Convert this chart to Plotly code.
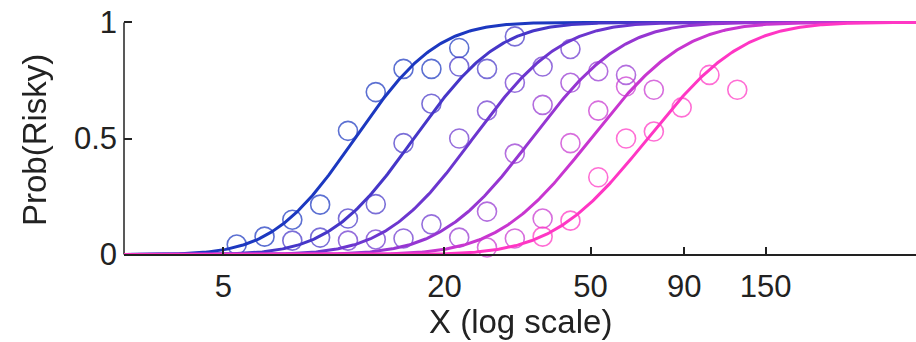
import math
import numpy as np
import plotly.graph_objects as go

# ---- data ----
s1_x = [5.435, 6.471, 7.702, 9.170, 10.92, 13.00, 15.47, 18.43, 21.94]
s1_p = [0.043, 0.077, 0.15, 0.215, 0.533, 0.70, 0.80, 0.80, 0.89]

s2_x = [7.702, 9.170, 10.92, 13.00, 15.47, 18.43, 21.94, 26.12, 31.10]
s2_p = [0.06, 0.073, 0.155, 0.217, 0.48, 0.65, 0.81, 0.80, 0.94]

s3_x = [10.92, 13.00, 15.47, 18.43, 21.94, 26.12, 31.10, 37.02, 44.08]
s3_p = [0.06, 0.065, 0.069, 0.13, 0.50, 0.62, 0.74, 0.81, 0.886]

s4_x = [21.94, 26.12, 31.10, 37.02, 44.08, 52.48, 62.47]
s4_p = [0.073, 0.185, 0.435, 0.645, 0.74, 0.79, 0.774]

s5_x = [26.12, 31.10, 37.02, 44.08, 52.48, 62.47, 74.37]
s5_p = [0.03, 0.069, 0.155, 0.48, 0.62, 0.724, 0.71]

s6_x = [37.02, 44.08, 52.48, 62.47, 74.37, 88.55, 105.4, 125.5]
s6_p = [0.077, 0.146, 0.333, 0.50, 0.53, 0.634, 0.774, 0.71]

# fitted psychometric curves (cumulative normal in log10 X): threshold and spread
fit_mid = [11.4, 16.5, 23.9, 34.6, 50.1, 71.5]
fit_sigma = [0.175, 0.181, 0.187, 0.193, 0.199, 0.203]

x_ticks = [5, 20, 50, 90, 150]
y_ticks = [0, 0.5, 1]
y_tick_text = ["0", "0.5", "1"]
x_title = "X (log scale)"
y_title = "Prob(Risky)"

colors = ["#1c38c0", "#4636c8", "#6c36cf", "#9636d2", "#c836d0", "#ff36c4"]

series_x = [s1_x, s2_x, s3_x, s4_x, s5_x, s6_x]
series_p = [s1_p, s2_p, s3_p, s4_p, s5_p, s6_p]

x_min, x_max = 2.68, 385.0

fig = go.Figure()
xs = np.logspace(np.log10(x_min), np.log10(x_max), 500)

for i in range(6):
    fig.add_trace(go.Scatter(
        x=series_x[i], y=series_p[i], mode="markers",
        marker=dict(symbol="circle-open", size=19, color=colors[i],
                    line=dict(width=1.6, color=colors[i])),
        opacity=0.72, showlegend=False, cliponaxis=False))

for i in range(6):
    z = (np.log10(xs) - np.log10(fit_mid[i])) / fit_sigma[i]
    p = [0.5 * (1.0 + math.erf(v / math.sqrt(2.0))) for v in z]
    fig.add_trace(go.Scatter(
        x=xs, y=p, mode="lines",
        line=dict(color=colors[i], width=3),
        showlegend=False))

W, H = 916, 342
ML, MR, MT, MB = 124, 0, 19, 84
plot_w = W - ML - MR
plot_h = H - MT - MB

ypad = 0.015
tick_font = dict(family="Liberation Sans, Arial, sans-serif", size=31, color="#222222")
title_font = dict(family="Liberation Sans, Arial, sans-serif", size=33, color="#222222")

fig.update_layout(
    width=W, height=H,
    margin=dict(l=ML, r=MR, t=MT, b=MB),
    paper_bgcolor="white", plot_bgcolor="white",
    font=tick_font,
    xaxis=dict(
        type="log", range=[np.log10(x_min), np.log10(x_max)],
        tickvals=x_ticks, ticktext=[str(v) for v in x_ticks],
        ticks="inside", ticklen=7, tickwidth=1.5, tickcolor="#222",
        showline=True, linecolor="#222", linewidth=1.5,
        showgrid=False, zeroline=False,
        anchor="free", position=ypad / (1 + 2 * ypad),
        tickfont=tick_font, ticklabelstandoff=5,
    ),
    yaxis=dict(
        range=[-ypad, 1 + ypad],
        tickvals=y_ticks, ticktext=y_tick_text,
        ticks="inside", ticklen=8, tickwidth=1.5, tickcolor="#222",
        showline=False, showgrid=False, zeroline=False,
        tickfont=tick_font, ticklabelstandoff=6,
    ),
    shapes=[dict(type="line", xref="paper", yref="y", x0=0, x1=0, y0=0, y1=1,
                 line=dict(color="#222", width=1.5), layer="below")],
    annotations=[
        dict(text=x_title, xref="paper", yref="paper",
             x=(520 - ML) / plot_w, y=-(301 - (H - MB)) / plot_h,
             xanchor="center", yanchor="top", showarrow=False, font=title_font),
        dict(text=y_title, xref="paper", yref="paper",
             x=(34 - ML) / plot_w, y=(H - MB - 140) / plot_h,
             xanchor="center", yanchor="middle", textangle=-90,
             showarrow=False, font=title_font),
    ],
)

fig.write_html("out.html")
